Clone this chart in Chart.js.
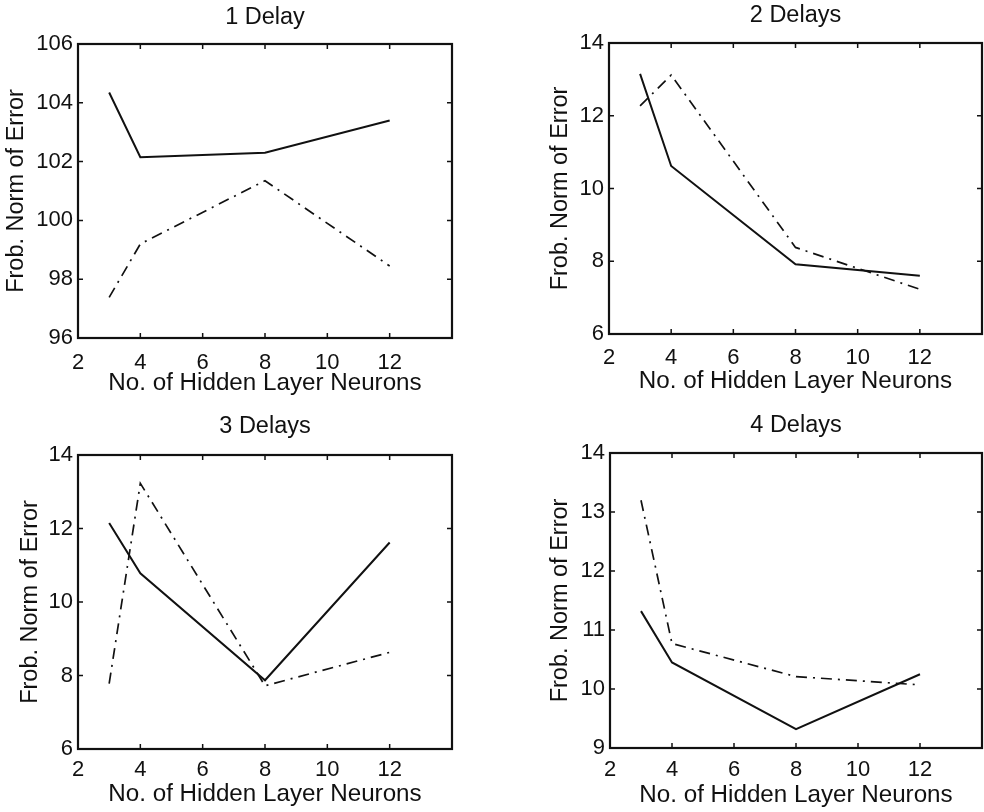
<!DOCTYPE html>
<html lang="en">
<head>
    <meta charset="UTF-8">
    <title>Frob. Norm of Error vs Hidden Layer Neurons</title>
    <script src="https://cdn.jsdelivr.net/npm/chart.js"></script>
    <style>
        body { margin: 0; padding: 0; background: #fff; }
        canvas { position: absolute; }
    </style>
</head>
<body>

<canvas id="c1" width="492" height="406" style="left:0;top:0"></canvas>
<canvas id="c2" width="492" height="406" style="left:492px;top:0"></canvas>
<canvas id="c3" width="492" height="406" style="left:0;top:406px"></canvas>
<canvas id="c4" width="492" height="406" style="left:492px;top:406px"></canvas>

<script>
// data
const neurons = [3, 4, 8, 12];
const chartTitles = ['1 Delay', '2 Delays', '3 Delays', '4 Delays'];
const xAxisLabel = 'No. of Hidden Layer Neurons';
const yAxisLabel = 'Frob. Norm of Error';
const xTicks = [2, 4, 6, 8, 10, 12, 14];
const xTickLabels = ['2', '4', '6', '8', '10', '12', ''];

// solid line
const solid1 = [104.35, 102.15, 102.3, 103.4];
const solid2 = [13.15, 10.62, 7.92, 7.6];
const solid3 = [12.15, 10.78, 7.87, 11.62];
const solid4 = [11.32, 10.45, 9.32, 10.25];

// dash-dot line
const dashDot1 = [97.38, 99.2, 101.35, 98.45];
const dashDot2 = [12.27, 13.12, 8.38, 7.23];
const dashDot3 = [7.78, 13.23, 7.72, 8.63];
const dashDot4 = [13.2, 10.77, 10.21, 10.07];

const yTicks1 = [96, 98, 100, 102, 104, 106];
const yTicks2 = [6, 8, 10, 12, 14];
const yTicks3 = [6, 8, 10, 12, 14];
const yTicks4 = [9, 10, 11, 12, 13, 14];

const ink = '#111';
const family = "'Liberation Sans', Arial, Helvetica, sans-serif";

// where each plot box sits inside its canvas (pixels)
const panels = [
    { id: 'c1', title: chartTitles[0], solid: solid1, dashDot: dashDot1, yTicks: yTicks1,
      box: { left: 78, top: 44, right: 452, bottom: 338 }, titleY: 17.5, yTitleX: 16.5, xTitleY: 383.5, xTickPad: 12 },
    { id: 'c2', title: chartTitles[1], solid: solid2, dashDot: dashDot2, yTicks: yTicks2,
      box: { left: 117, top: 43, right: 490, bottom: 334 }, titleY: 15.5, yTitleX: 69, xTitleY: 381.5, xTickPad: 10.5 },
    { id: 'c3', title: chartTitles[2], solid: solid3, dashDot: dashDot3, yTicks: yTicks3,
      box: { left: 78, top: 49, right: 452, bottom: 343 }, titleY: 21, yTitleX: 31, xTitleY: 388.5, xTickPad: 8 },
    { id: 'c4', title: chartTitles[3], solid: solid4, dashDot: dashDot4, yTicks: yTicks4,
      box: { left: 118, top: 47, right: 490, bottom: 342 }, titleY: 20, yTitleX: 69, xTitleY: 389.5, xTickPad: 9 }
];

// box frame with inward ticks on all four sides
const framePlugin = {
    id: 'frame',
    afterDatasetsDraw(chart) {
        const { ctx, chartArea: a, scales: { x, y } } = chart;
        const len = 5;
        ctx.save();
        ctx.strokeStyle = ink;
        ctx.lineWidth = 1.5;
        ctx.beginPath();
        x.ticks.forEach(t => {
            const px = x.getPixelForValue(t.value);
            ctx.moveTo(px, a.bottom); ctx.lineTo(px, a.bottom - len);
            ctx.moveTo(px, a.top); ctx.lineTo(px, a.top + len);
        });
        y.ticks.forEach(t => {
            const py = y.getPixelForValue(t.value);
            ctx.moveTo(a.left, py); ctx.lineTo(a.left + len, py);
            ctx.moveTo(a.right, py); ctx.lineTo(a.right - len, py);
        });
        ctx.stroke();
        ctx.lineWidth = 2.2;
        ctx.strokeRect(a.left, a.top, a.right - a.left, a.bottom - a.top);
        ctx.restore();
    }
};

function makePanel(p) {
    const W = 492, H = 406;
    const titleSize = 23.5, titleLine = titleSize * 1.2;
    const xTitleSize = 24.2, yTitleSize = 23.5;
    const titlePadTop = p.titleY - titleLine / 2;

    new Chart(document.getElementById(p.id), {
        type: 'line',
        data: {
            datasets: [{
                data: neurons.map((n, i) => ({ x: n, y: p.solid[i] })),
                borderColor: ink,
                borderWidth: 2,
                pointRadius: 0,
                tension: 0
            }, {
                data: neurons.map((n, i) => ({ x: n, y: p.dashDot[i] })),
                borderColor: ink,
                borderWidth: 1.7,
                borderDash: [11, 6, 2, 6],
                pointRadius: 0,
                tension: 0
            }]
        },
        options: {
            responsive: false,
            animation: false,
            devicePixelRatio: 1,
            layout: { padding: { left: 0, top: 0, right: W - p.box.right, bottom: 0 } },
            plugins: {
                legend: { display: false },
                tooltip: { enabled: false },
                title: {
                    display: true,
                    text: p.title,
                    color: ink,
                    fullSize: false,
                    font: { family: family, size: titleSize, weight: 'normal', lineHeight: 1.2 },
                    padding: { top: titlePadTop, bottom: p.box.top - titleLine - titlePadTop }
                }
            },
            scales: {
                x: {
                    type: 'linear',
                    min: 2,
                    max: 14,
                    grid: { display: false, drawTicks: false },
                    border: { display: false },
                    afterBuildTicks: s => { s.ticks = xTicks.map(v => ({ value: v })); },
                    afterFit: s => {
                        s.height = H - p.box.bottom;
                        s.paddingLeft = 0;
                        s.paddingRight = 0;
                    },
                    ticks: {
                        color: ink,
                        padding: p.xTickPad,
                        autoSkip: false,
                        maxRotation: 0,
                        font: { family: family, size: 22 },
                        callback: (v) => xTickLabels[xTicks.indexOf(v)]
                    },
                    title: {
                        display: true,
                        text: xAxisLabel,
                        color: ink,
                        font: { family: family, size: xTitleSize, lineHeight: 1.2 },
                        padding: { top: 0, bottom: H - p.xTitleY - xTitleSize * 0.6 }
                    }
                },
                y: {
                    min: p.yTicks[0],
                    max: p.yTicks[p.yTicks.length - 1],
                    grid: { display: false, drawTicks: false },
                    border: { display: false },
                    afterBuildTicks: s => { s.ticks = p.yTicks.map(v => ({ value: v })); },
                    afterFit: s => {
                        s.width = p.box.left;
                        s.paddingTop = 0;
                        s.paddingBottom = 0;
                    },
                    ticks: {
                        color: ink,
                        padding: 5,
                        font: { family: family, size: 22 },
                        callback: (v) => String(v)
                    },
                    title: {
                        display: true,
                        text: yAxisLabel,
                        color: ink,
                        font: { family: family, size: yTitleSize, lineHeight: 1.2 },
                        padding: { top: p.yTitleX - yTitleSize * 0.6, bottom: 0 }
                    }
                }
            }
        },
        plugins: [framePlugin]
    });
}

panels.forEach(makePanel);
</script>

</body>
</html>
